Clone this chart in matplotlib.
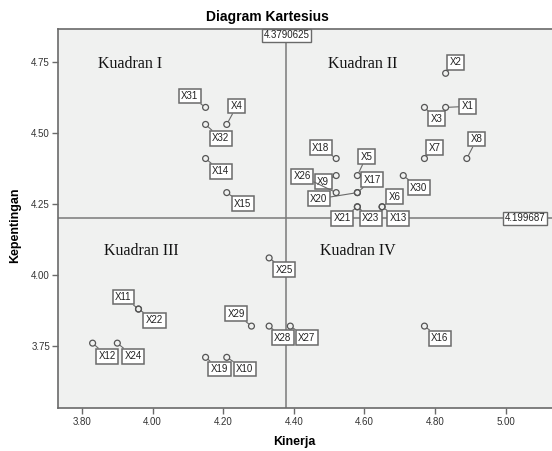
import numpy as np
import matplotlib
matplotlib.use('Agg')
import matplotlib.pyplot as plt

# atribut X1..X32, nilai rata-rata kinerja dan kepentingan
atribut = ['X%d' % i for i in range(1, 33)]
kinerja = [4.83, 4.83, 4.77, 4.21, 4.58, 4.65, 4.77, 4.89, 4.52, 4.21,
           3.96, 3.83, 4.65, 4.15, 4.21, 4.77, 4.58, 4.52, 4.15, 4.58,
           4.58, 3.96, 4.58, 3.90, 4.33, 4.52, 4.39, 4.33, 4.28, 4.71,
           4.15, 4.15]
kepentingan = [4.59, 4.71, 4.59, 4.53, 4.35, 4.24, 4.41, 4.41, 4.35, 3.71,
               3.88, 3.76, 4.24, 4.41, 4.29, 3.82, 4.29, 4.41, 3.71, 4.29,
               4.24, 3.88, 4.24, 3.76, 4.06, 4.29, 3.82, 3.82, 3.82, 4.35,
               4.59, 4.53]
rata_kinerja = 4.3790625
rata_kepentingan = 4.199687
xticks = [3.80, 4.00, 4.20, 4.40, 4.60, 4.80, 5.00]
yticks = [3.75, 4.00, 4.25, 4.50, 4.75]

# posisi label (pixel, relatif ke titik; y ke bawah)
geser = {'X1': (22, -1), 'X2': (10, -11), 'X3': (12, 11.5), 'X4': (10, -18.5),
         'X5': (9, -19), 'X6': (12.5, -10), 'X7': (10, -11), 'X8': (10, -19.5),
         'X9': (-13, 6), 'X10': (18, 11.7), 'X11': (-15, -12), 'X12': (14.7, 13),
         'X13': (16, 11.5), 'X14': (15, 12.8), 'X15': (16, 11.3), 'X16': (15.5, 12),
         'X17': (14.7, -13), 'X18': (-15.5, -11), 'X19': (14, 11.7), 'X20': (-38.5, 6.2),
         'X21': (-15.3, 11.5), 'X22': (16, 11.3), 'X23': (13.5, 11.5), 'X24': (16, 13),
         'X25': (15.3, 11.7), 'X26': (-34, -16.3), 'X27': (16.5, 11.4), 'X28': (13.5, 11.4),
         'X29': (-15.4, -12.3), 'X30': (15.4, 12.2), 'X31': (-15.7, -11.4), 'X32': (15, 13.8)}

fig = plt.figure(figsize=(5.52, 4.51), dpi=100)
ax = fig.add_axes([58.3/552, 42.7/451, 500.3/552, 379.3/451])
ax.set_facecolor('#f0f1f0')
ax.set_xlim(3.7328, 5.15)
ax.set_ylim(3.5306, 4.866)

abu = '#6a6a6a'
ax.axvline(rata_kinerja, color='#7a7a7a', lw=1.1, zorder=1)
ax.axhline(rata_kepentingan, color='#7a7a7a', lw=1.1, zorder=1)

kotak = dict(boxstyle='square,pad=0.25', fc='white', ec=abu, lw=1.1)
for nama, xk, yk in zip(atribut, kinerja, kepentingan):
    dx, dy = geser[nama]
    ax.annotate(nama, (xk, yk), xytext=(dx, -dy), textcoords='offset pixels',
                ha='center', va='center', fontsize=7, family='Liberation Sans',
                color='#222222', bbox=kotak, zorder=4,
                arrowprops=dict(arrowstyle='-', color=abu, lw=0.8,
                                shrinkA=0, shrinkB=2.5))
ax.scatter(kinerja, kepentingan, s=18, facecolors='none', edgecolors='#555555',
           linewidths=0.9, zorder=5)

ax.annotate('%.7f' % rata_kinerja, (rata_kinerja, 1), xycoords=('data', 'axes fraction'),
            xytext=(0, -1.5), textcoords='offset pixels', ha='center', va='top',
            fontsize=7, family='Liberation Sans', color='#222222',
            bbox=dict(boxstyle='square,pad=0.15', fc='white', ec=abu, lw=1), zorder=6)
ax.annotate('%.6f' % rata_kepentingan, (4.997, rata_kepentingan), ha='left', va='center',
            fontsize=7, family='Liberation Sans', color='#222222',
            bbox=dict(boxstyle='square,pad=0.15', fc='white', ec=abu, lw=1), zorder=6)

serif = dict(fontsize=11.5, family='Liberation Serif', color='#111111', va='center')
ax.text(3.845, 4.743, 'Kuadran I', **serif)
ax.text(4.497, 4.743, 'Kuadran II', **serif)
ax.text(3.862, 4.084, 'Kuadran III', **serif)
ax.text(4.474, 4.084, 'Kuadran IV', **serif)

ax.set_xticks(xticks)
ax.set_xticklabels(['%.2f' % v for v in xticks])
ax.set_yticks(yticks)
ax.set_yticklabels(['%.2f' % v for v in yticks])
ax.tick_params(direction='out', length=4, width=1, color=abu, labelsize=7,
               labelcolor='#333333', pad=2)
for lbl in ax.get_xticklabels() + ax.get_yticklabels():
    lbl.set_family('Liberation Sans')
for sp in ax.spines.values():
    sp.set_color(abu)
    sp.set_linewidth(1.2)

fig.text(267/552, 1 - 17/451, 'Diagram Kartesius', ha='center', va='center',
         fontsize=10, fontweight='bold', family='Liberation Sans')
fig.text(294/552, 1 - 442/451, 'Kinerja', ha='center', va='center',
         fontsize=9, fontweight='bold', family='Liberation Sans')
fig.text(15/552, 1 - 225/451, 'Kepentingan', ha='center', va='center', rotation=90,
         fontsize=9, fontweight='bold', family='Liberation Sans')

fig.savefig('out.png', dpi=100)
